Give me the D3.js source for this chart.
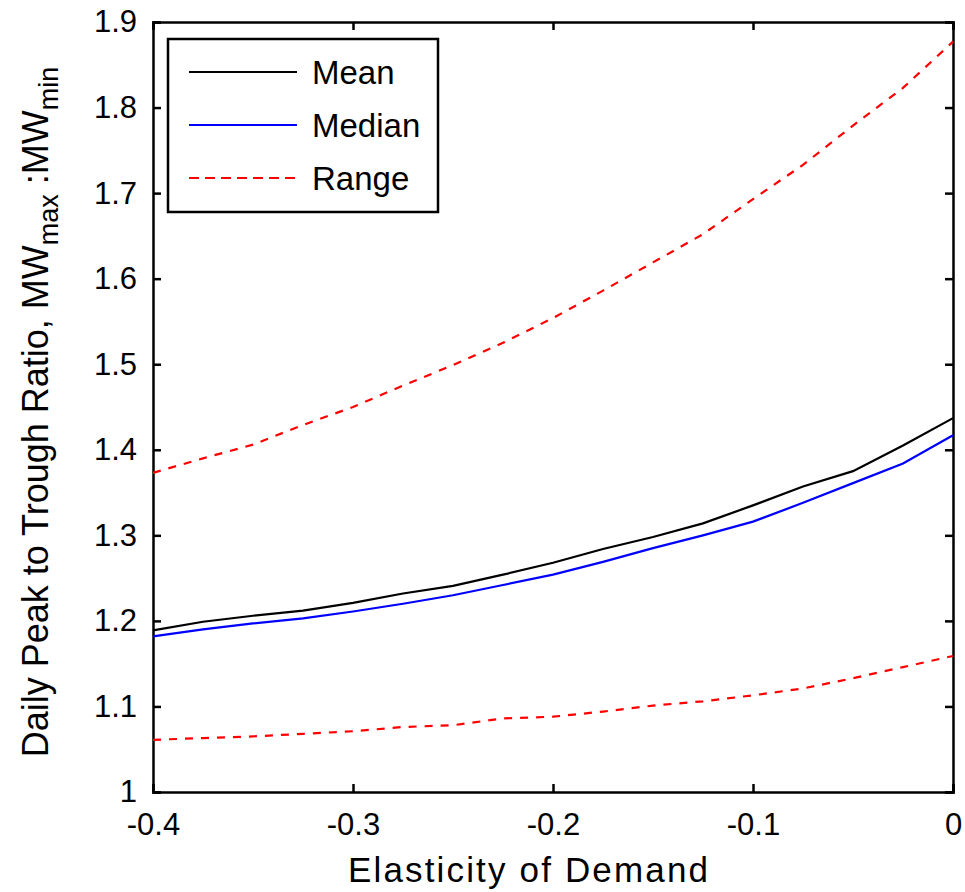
<!DOCTYPE html>
<html>
<head>
<meta charset="utf-8">
<script src="https://cdn.jsdelivr.net/npm/d3@7"></script>
<style>
  body { margin: 0; background: #fff; }
  #my_dataviz { width: 965px; height: 892px; }
  text { font-family: "Liberation Sans", Arial, sans-serif; fill: #000; }
</style>
</head>
<body>
<div id="my_dataviz"></div>
<script>
// elasticity values (x)
var elasticity = [-0.4, -0.375, -0.35, -0.325, -0.3, -0.275, -0.25, -0.225, -0.2,
                  -0.175, -0.15, -0.125, -0.1, -0.075, -0.05, -0.025, 0];
var meanRatio   = [1.189, 1.199, 1.206, 1.212, 1.221, 1.232, 1.241, 1.254, 1.268,
                   1.284, 1.298, 1.314, 1.335, 1.357, 1.375, 1.405, 1.437];
var medianRatio = [1.182, 1.190, 1.197, 1.203, 1.211, 1.220, 1.230, 1.242, 1.254,
                   1.269, 1.285, 1.300, 1.316, 1.338, 1.361, 1.384, 1.417];
var rangeHigh   = [1.373, 1.390, 1.406, 1.429, 1.450, 1.475, 1.499, 1.525, 1.554,
                   1.586, 1.619, 1.652, 1.693, 1.733, 1.779, 1.823, 1.877];
var rangeLow    = [1.061, 1.063, 1.065, 1.068, 1.071, 1.076, 1.078, 1.086, 1.088,
                   1.094, 1.101, 1.106, 1.113, 1.121, 1.133, 1.146, 1.159];
var xTicks = [-0.4, -0.3, -0.2, -0.1, 0];
var yTicks = [1, 1.1, 1.2, 1.3, 1.4, 1.5, 1.6, 1.7, 1.8, 1.9];
var legendNames = ["Mean", "Median", "Range"];

var width = 965, height = 892;
var plot = {left: 153, right: 953, top: 22, bottom: 792};

var svg = d3.select("#my_dataviz").append("svg").attr("width", width).attr("height", height);

var x = d3.scaleLinear().domain([-0.4, 0]).range([plot.left, plot.right]);
var y = d3.scaleLinear().domain([1, 1.9]).range([plot.bottom, plot.top]);

// matlab style labels: plain hyphen, "0" and "1" without decimals
function tickText(d) { return d === 0 || d === 1 ? String(d) : d.toFixed(1); }

// axes, ticks pointing inward on every side (matlab box)
var tickLen = 8;
svg.append("g").attr("transform", "translate(0," + plot.bottom + ")")
    .call(d3.axisBottom(x).tickValues(xTicks).tickSize(-tickLen).tickPadding(21).tickFormat(tickText))
    .call(styleAxis);
svg.append("g").attr("transform", "translate(0," + plot.top + ")")
    .call(d3.axisTop(x).tickValues(xTicks).tickSize(-tickLen).tickFormat(""))
    .call(styleAxis);
svg.append("g").attr("transform", "translate(" + plot.left + ",0)")
    .call(d3.axisLeft(y).tickValues(yTicks).tickSize(-tickLen).tickPadding(16).tickFormat(tickText))
    .call(styleAxis);
svg.append("g").attr("transform", "translate(" + plot.right + ",0)")
    .call(d3.axisRight(y).tickValues(yTicks).tickSize(-tickLen).tickFormat(""))
    .call(styleAxis);

function styleAxis(g) {
    g.select(".domain").attr("stroke", "#000").attr("stroke-width", 2.5);
    g.selectAll(".tick line").attr("stroke", "#000").attr("stroke-width", 2.5);
    g.selectAll(".tick text").style("font-size", "31px").attr("fill", "#000");
}

// series
var series = [
    {values: meanRatio, color: "#000", dash: null},
    {values: medianRatio, color: "#0000ff", dash: null},
    {values: rangeHigh, color: "#ff0000", dash: "8,8"},
    {values: rangeLow, color: "#ff0000", dash: "8,8"}
];
var line = d3.line()
    .x(function (d) { return x(d[0]); })
    .y(function (d) { return y(d[1]); });

svg.append("g").selectAll("path")
    .data(series)
    .enter()
    .append("path")
    .attr("d", function (s) { return line(d3.zip(elasticity, s.values)); })
    .attr("fill", "none")
    .attr("stroke", function (s) { return s.color; })
    .attr("stroke-width", 2.2)
    .attr("stroke-dasharray", function (s) { return s.dash; });

// legend
var legend = svg.append("g");
legend.append("rect")
    .attr("x", 168).attr("y", 39).attr("width", 270).attr("height", 173)
    .attr("fill", "#fff").attr("stroke", "#000").attr("stroke-width", 2.5);
var entries = legend.selectAll("g.entry")
    .data(series.slice(0, 3))
    .enter()
    .append("g")
    .attr("class", "entry")
    .attr("transform", function (d, i) { return "translate(0," + (72 + i * 53) + ")"; });
entries.append("line")
    .attr("x1", 189).attr("x2", 297)
    .attr("stroke", function (d) { return d.color; })
    .attr("stroke-width", 2.2)
    .attr("stroke-dasharray", function (d) { return d.dash ? "10,6" : null; });
entries.append("text")
    .attr("x", 312).attr("dy", "0.36em")
    .style("font-size", "33px")
    .text(function (d, i) { return legendNames[i]; });

// axis titles
svg.append("text")
    .attr("x", 528).attr("y", 882)
    .attr("text-anchor", "middle")
    .attr("textLength", 360).attr("lengthAdjust", "spacing")
    .style("font-size", "35px")
    .text("Elasticity of Demand");

var ylab = svg.append("text")
    .attr("transform", "translate(48,412) rotate(-90)")
    .attr("text-anchor", "middle")
    .style("font-size", "36px");
ylab.append("tspan").text("Daily Peak to Trough Ratio, MW");
ylab.append("tspan").attr("dy", 10).style("font-size", "27px").text("max");
ylab.append("tspan").attr("dy", -10).text(" :MW");
ylab.append("tspan").attr("dy", 10).style("font-size", "27px").text("min");
</script>
</body>
</html>
